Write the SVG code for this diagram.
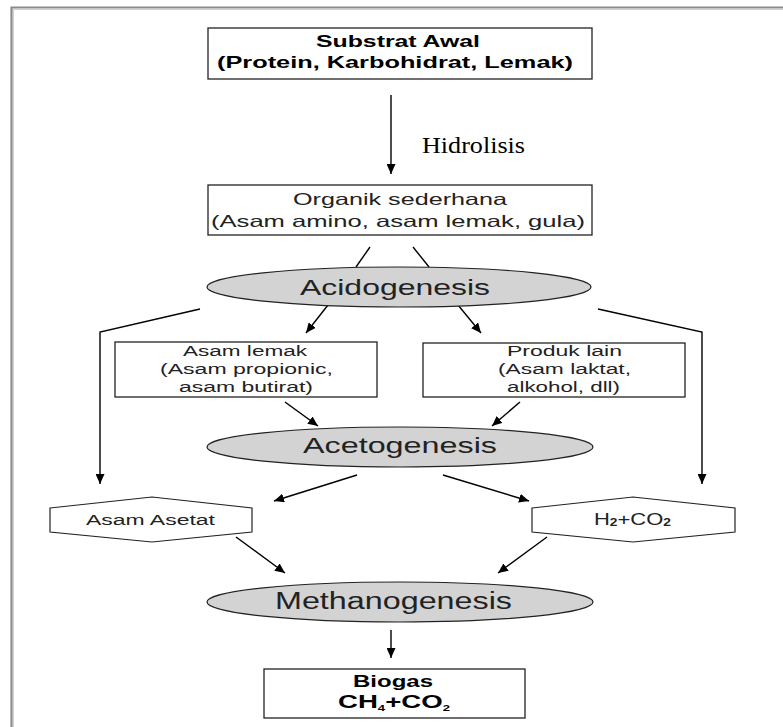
<svg xmlns="http://www.w3.org/2000/svg" width="783" height="727" viewBox="0 0 783 727">
<defs>
<marker id="ah" markerUnits="userSpaceOnUse" markerWidth="11" markerHeight="9" refX="10" refY="4.5" orient="auto">
<path d="M0,0 L10,4.5 L0,9 z" fill="#000"/>
</marker>
<style>
.box{fill:#fff;stroke:#222;stroke-width:1.3}
.ell{fill:#d3d3d3;stroke:#222;stroke-width:1.2}
.hex{fill:#fff;stroke:#222;stroke-width:1.2}
.t{font-family:"Liberation Sans",Arial,sans-serif;fill:#222}
.b{font-weight:bold;fill:#000}
.c line,.c polyline{stroke:#000;stroke-width:1.4;fill:none}
.a{marker-end:url(#ah)}
</style>
</defs>
<rect width="783" height="727" fill="#fff"/>
<g id="frame">
<path d="M11.5,727 V7.5 H783" fill="none" stroke="#8a8a8a" stroke-width="2.2"/>
<path d="M13.5,727 V9.5 H783" fill="none" stroke="#d0d0d0" stroke-width="1"/>
</g>
<g class="c" id="connectors">
<line class="a" x1="391" y1="95" x2="391" y2="174"/>
<line x1="370" y1="247" x2="356" y2="267"/>
<line x1="413" y1="247" x2="429" y2="267"/>
<line class="a" x1="328" y1="305" x2="306" y2="333"/>
<line class="a" x1="458" y1="305" x2="481" y2="333"/>
<polyline class="a" points="200,309 100,332 100,484"/>
<polyline class="a" points="598,309 702,332 702,484"/>
<line class="a" x1="285" y1="402" x2="318" y2="426"/>
<line class="a" x1="520" y1="402" x2="492" y2="426"/>
<line class="a" x1="357" y1="475" x2="274" y2="501"/>
<line class="a" x1="443" y1="475" x2="529" y2="501"/>
<line class="a" x1="236" y1="537" x2="285" y2="573"/>
<line class="a" x1="547" y1="537" x2="498" y2="573"/>
<line class="a" x1="391" y1="630" x2="391" y2="658"/>
</g>
<g id="hidrolisis-label">
<text x="422" y="153" font-family="'Liberation Serif','Times New Roman',serif" font-size="24" textLength="103" lengthAdjust="spacingAndGlyphs">Hidrolisis</text>
</g>
<g id="substrat">
<rect class="box" x="208" y="28" width="384" height="51"/>
<text class="t b" x="316" y="47" font-size="17" textLength="164" lengthAdjust="spacingAndGlyphs">Substrat Awal</text>
<text class="t b" x="217" y="68" font-size="17" textLength="356" lengthAdjust="spacingAndGlyphs">(Protein, Karbohidrat, Lemak)</text>
</g>
<g id="organik">
<rect class="box" x="208" y="185" width="384" height="50"/>
<text class="t" x="293" y="205" font-size="16.5" textLength="214" lengthAdjust="spacingAndGlyphs">Organik sederhana</text>
<text class="t" x="211" y="227" font-size="16.5" textLength="374" lengthAdjust="spacingAndGlyphs">(Asam amino, asam lemak, gula)</text>
</g>
<g id="acidogenesis">
<ellipse class="ell" cx="399" cy="287" rx="192" ry="20"/>
<text class="t" x="300" y="295" font-size="22" textLength="190" lengthAdjust="spacingAndGlyphs">Acidogenesis</text>
</g>
<g id="asam-lemak">
<rect class="box" x="115" y="342" width="262" height="55"/>
<text class="t" x="183" y="356" font-size="15.5" textLength="124" lengthAdjust="spacingAndGlyphs">Asam lemak</text>
<text class="t" x="160" y="374" font-size="15.5" textLength="173" lengthAdjust="spacingAndGlyphs">(Asam propionic,</text>
<text class="t" x="179" y="392" font-size="15.5" textLength="134" lengthAdjust="spacingAndGlyphs">asam butirat)</text>
</g>
<g id="produk-lain">
<rect class="box" x="423" y="343" width="262" height="54"/>
<text class="t" x="507" y="356" font-size="15.5" textLength="115" lengthAdjust="spacingAndGlyphs">Produk lain</text>
<text class="t" x="498" y="374" font-size="15.5" textLength="133" lengthAdjust="spacingAndGlyphs">(Asam laktat,</text>
<text class="t" x="507" y="392" font-size="15.5" textLength="113" lengthAdjust="spacingAndGlyphs">alkohol, dll)</text>
</g>
<g id="acetogenesis">
<ellipse class="ell" cx="400" cy="447" rx="193" ry="20"/>
<text class="t" x="303" y="453" font-size="22" textLength="194" lengthAdjust="spacingAndGlyphs">Acetogenesis</text>
</g>
<g id="asam-asetat">
<polygon class="hex" points="50,508 152,497 252,508 252,532 152,542 50,532"/>
<text class="t" x="86" y="525" font-size="15.5" textLength="129" lengthAdjust="spacingAndGlyphs">Asam Asetat</text>
</g>
<g id="h2co2">
<polygon class="hex" points="532,508 633,497 735,508 735,532 633,542 532,532"/>
<text class="t" x="594" y="525" font-size="16" textLength="77" lengthAdjust="spacingAndGlyphs">H<tspan font-size="10" dy="1" font-weight="bold">2</tspan><tspan dy="-1">+CO</tspan><tspan font-size="10" dy="1" font-weight="bold">2</tspan></text>
</g>
<g id="methanogenesis">
<ellipse class="ell" cx="400" cy="602" rx="193" ry="20"/>
<text class="t" x="275" y="609" font-size="23" textLength="237" lengthAdjust="spacingAndGlyphs">Methanogenesis</text>
</g>
<g id="biogas">
<rect class="box" x="264" y="669" width="261" height="49"/>
<text class="t b" x="353" y="687" font-size="17" textLength="80" lengthAdjust="spacingAndGlyphs">Biogas</text>
<text class="t b" x="338" y="708" font-size="19" textLength="112" lengthAdjust="spacingAndGlyphs">CH<tspan font-size="9" dy="3">4</tspan><tspan dy="-3">+CO</tspan><tspan font-size="9" dy="3">2</tspan></text>
</g>
</svg>
